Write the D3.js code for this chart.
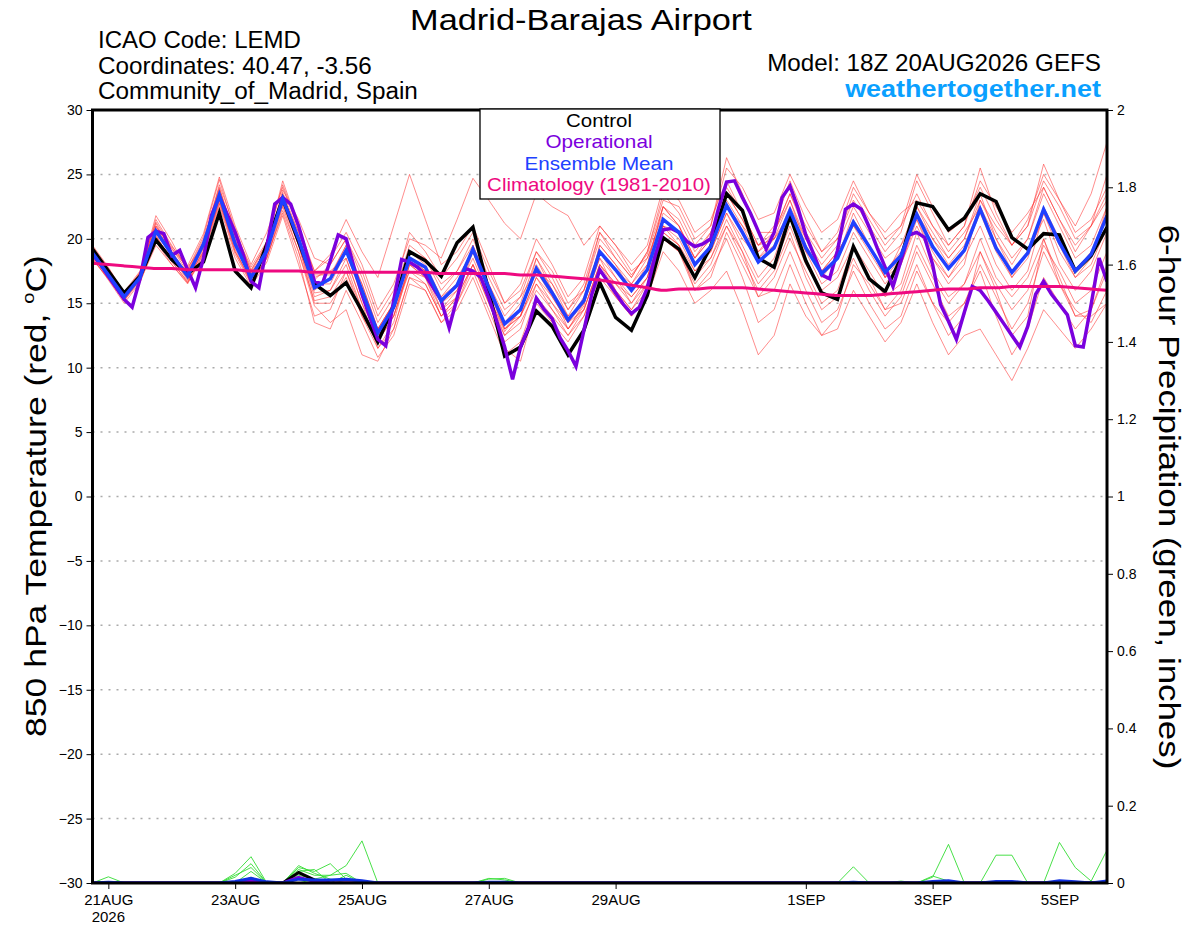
<!DOCTYPE html>
<html><head><meta charset="utf-8">
<script src="https://cdn.jsdelivr.net/npm/d3@7"></script>
<style>body{margin:0;background:#fff} svg{display:block} text{font-family:"Liberation Sans",Arial,Helvetica,sans-serif}</style>
</head><body><svg id="c" width="1200" height="927"></svg>
<script>
const startTime = "2026-08-20T18:00:00Z";
const stepHours = 6;
const opStepHours = 3;
const tempTicks = [30,25,20,15,10,5,0,-5,-10,-15,-20,-25,-30];
const precipTicks = [0,0.2,0.4,0.6,0.8,1,1.2,1.4,1.6,1.8,2];
const dateTicks = ["2026-08-21","2026-08-23","2026-08-25","2026-08-27","2026-08-29","2026-09-01","2026-09-03","2026-09-05"];
const dateLabels = ["21AUG","23AUG","25AUG","27AUG","29AUG","1SEP","3SEP","5SEP"];
const yearLabel = "2026";
const legendLabels = ["Control","Operational","Ensemble Mean","Climatology (1981-2010)"];

const control = [19.2,17.5,15.8,17.1,19.9,18.4,17.3,18.2,22.0,17.5,16.2,19.6,23.1,19.8,16.5,15.6,16.6,14.4,12.0,14.8,19.0,18.3,17.1,19.7,20.9,15.9,10.9,11.6,14.4,13.2,11.0,12.9,16.6,13.9,12.9,15.6,20.1,19.2,17.0,19.4,23.5,22.2,18.5,17.8,21.8,18.3,15.8,15.3,19.4,16.9,15.9,18.5,22.8,22.5,20.7,21.6,23.5,22.9,20.1,19.2,20.4,20.3,17.5,18.7,20.9];
const ensembleMean = [18.9,17.2,15.5,17.0,20.6,18.8,17.1,19.6,23.4,19.6,17.0,19.1,23.1,20.0,16.2,16.9,19.1,16.0,12.7,14.7,18.5,17.8,15.2,16.4,19.2,16.2,13.4,14.5,17.7,15.8,13.7,15.2,19.0,17.6,16.0,17.6,21.5,20.5,18.0,19.4,22.6,20.5,18.2,19.3,22.2,19.3,17.3,18.5,21.3,19.4,17.4,18.7,21.9,19.4,17.7,19.1,22.3,19.3,17.4,18.9,22.3,19.7,17.5,18.8,21.8];
const operational = [18.8,18.0,17.1,16.2,15.3,14.7,16.9,20.1,20.6,20.4,18.7,19.1,17.6,16.2,18.5,21.8,23.3,21.9,20.5,18.8,16.7,16.2,19.4,22.7,23.2,22.7,21.0,18.9,16.7,16.5,18.3,20.3,20.0,
17.8,15.7,13.9,12.2,11.7,15.2,18.4,18.2,17.8,17.2,16.2,15.2,13.1,15.4,17.7,17.5,17.0,15.4,13.6,11.6,9.1,11.6,13.1,15.4,14.5,13.8,12.3,11.3,10.1,12.9,15.7,17.6,
16.7,15.8,14.9,14.2,14.7,16.2,18.7,20.7,20.8,20.5,19.8,19.4,19.6,20.0,22.4,24.4,24.5,23.2,22.0,20.6,19.2,20.5,23.2,24.1,22.4,20.3,18.8,17.2,16.9,19.1,22.3,
22.7,22.3,20.9,19.3,17.8,16.3,18.3,20.3,20.5,20.1,18.0,14.9,13.6,12.2,14.3,16.3,16.0,15.2,14.3,13.4,12.5,11.6,13.2,15.7,16.7,15.7,14.9,14.1,11.7,11.6,14.9,18.5,16.7];
const climatology = [18.1,18.0,17.9,17.8,17.7,17.7,17.6,17.6,17.6,17.6,17.5,17.5,17.5,17.5,17.4,17.4,17.4,17.4,17.4,17.4,17.4,17.4,17.3,17.3,17.3,17.3,17.3,17.2,17.2,17.1,17.0,16.9,16.8,16.6,16.4,16.2,16.0,16.1,16.1,16.2,16.2,16.2,16.1,16.0,15.9,15.8,15.7,15.6,15.6,15.6,15.7,15.8,15.9,16.0,16.1,16.1,16.2,16.2,16.3,16.3,16.3,16.3,16.2,16.1,16.0];

const member01 = [19.5,17.8,15.8,17.3,21.5,19.5,17.6,20.2,24.6,20.5,17.8,19.8,24.2,21.0,17.5,18.8,21.5,19.0,17.0,21.0,25.0,21.5,18.0,19.0,21.0,18.0,15.0,16.0,19.0,17.0,14.5,16.5,20.5,19.0,17.2,18.8,22.5,21.5,19.0,20.5,24.0,22.0,19.5,21.0,24.5,21.5,19.0,20.0,23.0,21.0,19.0,20.5,24.5,22.0,19.5,21.0,25.5,22.0,19.5,21.0,25.8,23.0,20.5,21.5,24.0];
const member02 = [18.5,16.8,15.0,16.6,19.8,18.0,16.5,18.8,22.5,18.8,16.5,18.6,22.0,18.5,13.5,13.0,16.0,13.5,10.8,12.5,16.5,16.0,13.5,15.0,17.5,14.5,11.5,10.5,15.0,13.5,12.0,14.0,17.5,15.5,14.0,15.5,20.0,19.0,16.5,18.0,21.0,18.5,16.0,17.5,20.5,17.0,14.5,15.5,18.5,16.0,14.0,15.5,19.0,16.5,14.0,15.0,17.5,14.0,11.0,13.0,17.0,15.0,13.0,14.5,18.0];
const member03 = [19.2,17.4,15.6,17.4,21.0,19.2,17.8,19.5,23.8,20.2,17.4,19.5,23.6,20.5,17.0,17.5,18.5,15.0,11.5,13.5,18.0,17.5,14.5,16.0,18.5,15.5,12.5,14.0,18.5,16.5,14.0,15.0,19.5,18.0,16.5,18.0,22.5,21.0,18.5,20.0,23.5,21.5,19.0,20.5,23.0,20.0,18.0,19.5,22.5,20.5,18.5,19.5,21.5,18.5,16.5,18.0,23.0,20.5,18.5,20.0,23.5,21.0,18.5,19.5,22.5];
const member04 = [18.7,17.0,15.3,16.8,20.0,18.5,16.8,19.0,23.0,19.2,16.6,18.5,22.5,19.0,14.8,13.5,14.5,11.0,10.5,13.0,17.0,16.5,14.0,15.5,18.0,15.0,12.0,13.0,16.5,14.5,12.5,14.5,18.0,16.0,14.5,16.5,20.5,19.5,17.0,18.5,21.5,19.0,15.5,16.0,19.0,16.0,13.5,14.5,17.5,15.0,13.0,14.0,17.5,15.0,13.5,15.0,18.0,15.5,13.0,15.0,19.0,16.5,14.5,13.5,16.0];
const member05 = [19.0,17.3,15.7,17.2,21.8,19.8,17.5,20.0,24.0,20.0,17.2,19.0,23.8,21.5,18.5,18.0,20.0,17.0,13.5,15.5,19.5,18.5,16.0,17.5,20.0,17.0,14.5,15.5,19.0,17.5,15.0,16.0,20.5,18.5,17.0,19.0,23.0,22.5,20.0,21.0,25.5,24.0,21.5,22.0,25.0,22.5,20.5,21.5,24.5,22.0,20.0,21.0,25.0,22.5,20.5,21.5,24.0,21.5,19.5,21.0,24.5,22.5,20.0,21.0,23.5];
const member06 = [18.6,17.1,15.4,16.9,20.3,18.2,16.7,19.2,22.8,19.4,17.1,18.9,22.8,19.5,15.5,16.0,18.0,14.5,12.0,14.0,18.0,17.0,14.0,15.5,19.0,16.0,13.0,14.0,17.0,15.0,13.0,15.0,18.5,17.0,15.0,17.0,21.0,20.0,17.5,19.0,22.0,19.5,17.0,18.5,22.0,19.0,16.5,17.5,20.5,18.5,16.5,18.0,21.5,19.0,17.0,18.5,21.0,18.0,16.0,17.5,22.0,19.0,17.0,18.0,21.0];
const member07 = [19.3,17.6,15.9,17.5,21.2,19.0,17.3,19.8,23.5,19.8,17.2,19.3,23.3,20.5,17.5,18.5,20.5,18.0,14.5,16.5,20.0,19.5,18.5,21.5,24.7,23.0,21.2,20.0,23.5,22.5,21.8,19.5,21.0,19.5,17.5,18.5,22.0,21.0,18.5,20.0,23.0,21.0,18.5,19.5,22.5,20.0,17.5,18.5,21.5,19.5,17.5,19.0,22.0,20.0,18.0,19.5,22.5,19.5,17.0,19.0,22.5,20.0,17.5,19.0,22.0];
const member08 = [18.8,17.2,15.6,17.1,20.8,19.0,17.2,19.4,23.2,19.5,16.9,19.0,22.9,20.0,16.5,16.5,19.0,15.5,12.5,14.5,18.5,17.5,15.0,16.0,19.5,16.5,13.5,14.0,17.0,15.5,13.5,14.5,18.0,16.5,15.0,16.5,21.0,19.5,16.0,17.5,20.0,17.0,13.5,14.5,18.0,15.0,12.5,13.0,16.0,14.0,12.0,13.5,16.5,13.5,11.0,12.5,13.0,11.0,9.0,11.5,14.5,13.0,11.5,13.0,15.0];
const member09 = [19.1,17.5,15.5,16.8,20.5,18.6,16.9,19.5,23.6,19.9,17.3,19.2,23.0,19.5,15.0,15.0,17.0,14.0,12.0,14.5,17.5,17.0,15.5,17.0,19.0,15.5,12.8,14.5,18.0,16.0,13.0,14.8,19.5,18.0,16.0,18.0,22.5,21.0,18.0,19.0,22.0,20.0,18.5,20.0,23.0,19.5,17.0,18.5,22.0,19.5,17.0,18.5,22.5,20.0,18.5,20.0,23.5,20.0,17.5,19.0,21.5,18.0,16.0,17.5,20.5];
const member10 = [18.9,17.3,15.7,17.2,20.9,19.0,17.0,19.7,24.2,20.8,17.5,19.7,24.5,21.0,17.2,17.2,19.5,16.5,13.0,15.0,19.0,18.0,15.5,16.5,19.0,16.0,13.5,15.0,18.5,16.0,14.0,16.0,20.0,18.5,17.0,19.0,23.5,22.0,19.5,21.0,26.3,23.5,20.5,20.5,23.5,20.5,18.5,20.0,23.5,21.5,19.5,21.0,23.5,21.0,19.0,20.5,22.5,20.0,18.0,20.0,24.0,21.5,19.5,21.0,23.0];
const member11 = [18.4,16.9,15.2,16.7,19.5,18.0,16.6,18.6,22.0,18.5,16.3,18.2,21.8,18.0,14.0,14.5,17.5,14.0,11.5,13.0,17.0,16.0,13.5,14.5,17.0,14.0,11.0,12.0,15.5,14.0,12.5,14.0,17.0,15.5,14.0,15.5,19.0,17.5,15.0,16.0,17.5,14.5,11.0,12.5,16.5,14.0,12.5,14.0,18.0,16.5,14.5,16.0,19.5,17.0,15.0,16.5,19.0,16.5,14.5,16.0,19.5,17.5,15.0,16.0,19.0];
const member12 = [19.0,17.2,15.4,17.0,21.0,19.3,17.4,19.8,23.9,20.3,17.6,19.6,23.4,20.2,16.0,17.0,19.5,16.0,13.0,15.0,19.0,18.5,16.5,17.5,19.5,16.5,14.0,15.5,17.5,16.5,14.5,16.0,19.0,17.0,15.5,17.0,21.0,20.5,18.0,19.5,22.5,21.0,19.5,20.0,21.5,19.0,17.5,19.0,21.0,19.5,17.0,18.0,21.0,18.5,17.0,19.0,22.0,19.0,17.0,18.5,22.0,19.5,17.0,18.5,22.5];
const member13 = [18.7,17.0,15.5,17.0,20.2,18.4,17.0,19.0,23.0,19.0,16.8,18.8,22.6,19.5,15.8,16.0,18.5,15.0,12.5,14.0,18.0,17.0,14.5,15.5,18.0,15.0,12.5,13.5,16.0,14.5,13.0,14.5,18.0,16.5,15.5,17.0,20.5,19.5,17.5,18.5,21.0,19.0,16.5,18.0,21.0,18.0,16.0,17.0,19.5,17.0,14.5,15.0,18.0,15.0,12.5,14.0,19.0,16.0,12.5,14.0,20.0,17.0,14.0,14.5,17.5];
const member14 = [19.4,17.7,15.8,17.4,21.3,19.4,17.9,20.4,24.8,21.0,18.0,20.5,24.0,20.8,16.8,18.0,20.0,17.5,14.0,16.0,20.5,19.0,17.0,18.5,20.5,17.5,15.0,16.5,20.0,18.0,15.5,17.0,21.0,19.5,18.0,19.5,24.0,23.0,20.5,21.5,24.5,22.0,19.5,20.5,23.5,21.0,19.0,20.5,24.0,22.0,20.5,22.0,23.0,21.0,19.5,21.0,24.5,22.5,20.5,22.0,24.0,21.5,19.0,21.0,25.0];
const member15 = [18.8,17.1,15.3,16.9,20.6,18.7,17.0,19.3,23.3,19.6,17.0,19.0,23.0,19.8,16.2,16.8,19.0,16.5,13.0,15.0,18.5,17.5,15.0,16.5,19.0,16.0,13.0,14.5,17.5,15.5,13.5,15.5,19.0,17.5,16.5,18.5,21.5,20.5,18.5,20.5,23.5,21.5,19.0,20.0,22.0,19.5,17.5,19.0,21.0,19.0,17.0,19.5,22.5,20.5,18.5,20.0,23.0,21.0,19.5,21.5,25.0,23.0,21.0,23.5,27.5];
const member16 = [18.5,16.9,15.2,16.9,20.1,18.3,16.6,18.9,22.7,19.0,16.6,18.5,22.2,19.0,15.2,15.5,17.5,14.5,12.0,14.0,17.5,16.5,14.0,15.0,18.0,15.5,13.0,14.0,16.5,15.0,13.5,15.0,18.5,16.0,14.5,16.0,20.0,19.0,16.0,17.0,20.5,18.0,15.5,17.0,20.0,17.5,15.0,16.0,19.5,17.5,15.5,16.5,20.5,17.5,15.5,16.5,20.0,17.0,15.5,17.0,20.0,16.5,14.0,14.0,15.0];

const precipMember01 = [0,0,0,0,0,0,0,0,0,0.025,0.068,0,0,0.045,0.025,0.01,0,0,0,0,0,0,0,0,0,0,0,0,0,0,0,0,0,0,0,0,0,0,0,0,0,0,0,0,0,0,0,0,0,0,0,0,0,0,0,0,0,0,0,0,0,0,0,0,0];
const precipMember02 = [0,0,0,0,0,0,0,0,0,0,0.01,0,0,0,0.01,0.02,0.045,0.109,0,0,0,0,0,0,0,0,0,0,0,0,0,0,0,0,0,0,0,0,0,0,0,0,0,0,0,0,0,0,0,0,0,0,0,0,0,0,0,0,0,0,0,0,0,0,0];
const precipMember03 = [0,0,0,0,0,0,0,0,0,0.015,0.05,0,0,0.04,0.03,0.05,0.01,0,0,0,0,0,0,0,0,0,0,0,0,0,0,0,0,0,0,0,0,0,0,0,0,0,0,0,0,0,0,0,0,0,0,0,0,0,0,0,0,0,0,0,0,0,0,0,0];
const precipMember04 = [0,0,0,0,0,0,0,0,0,0.02,0.04,0,0,0.035,0.02,0.02,0.025,0,0,0,0,0,0,0,0,0,0,0,0,0,0,0,0,0,0,0,0,0,0,0,0,0,0,0,0,0,0,0,0,0,0,0,0,0,0,0,0,0,0,0,0,0,0,0,0];
const precipMember05 = [0,0.016,0,0,0,0,0,0,0,0,0.03,0,0,0.03,0.035,0,0.02,0,0,0,0,0,0,0,0,0.01,0.012,0,0,0,0,0,0,0,0,0,0,0,0,0,0,0,0,0,0,0,0,0,0.042,0,0,0,0,0.015,0.1,0,0,0.072,0.072,0,0,0.105,0.04,0.005,0.085];
const precipMember06 = [0,0,0,0,0,0,0,0,0,0,0.015,0,0,0.02,0.01,0,0,0,0,0,0,0,0,0,0,0.012,0.008,0,0,0,0,0,0,0,0,0,0,0,0,0,0,0,0,0,0,0,0,0,0,0,0,0.005,0,0.018,0.005,0,0,0,0,0,0,0,0,0,0];
const precipControl = [0,0,0,0,0,0,0,0,0,0,0.008,0,0,0.027,0.008,0,0,0,0,0,0,0,0,0,0,0,0,0,0,0,0,0,0,0,0,0,0,0,0,0,0,0,0,0,0,0,0,0,0,0,0,0,0,0,0,0,0,0,0,0,0,0,0,0,0];
const precipMean = [0,0.002,0,0,0,0,0,0,0,0.004,0.012,0.003,0,0.01,0.008,0.008,0.01,0.006,0,0,0,0,0,0,0,0.002,0.002,0,0,0,0,0,0,0,0,0,0,0,0,0,0,0,0,0,0,0,0,0,0.002,0,0,0,0,0.004,0.006,0,0,0.004,0.004,0,0,0.006,0.003,0,0.005];
const precipOp = [0,0,0,0,0,0,0,0,0,0,0.006,0,0,0.015,0.004,0,0,0,0,0,0,0,0,0,0,0,0,0,0,0,0,0,0,0,0,0,0,0,0,0,0,0,0,0,0,0,0,0,0,0,0,0,0,0,0,0,0,0,0,0,0,0,0,0,0];

const members = [member01,member02,member03,member04,member05,member06,member07,member08,member09,member10,member11,member12,member13,member14,member15,member16];
const precipMembers = [precipMember01,precipMember02,precipMember03,precipMember04,precipMember05,precipMember06];

const svg = d3.select("#c");
const m = {l: 92.5, r: 1107, t: 110, b: 883};
const t0 = new Date(startTime);
const tAt = (i, step) => new Date(t0.getTime() + i * step * 3600e3);
const x = d3.scaleUtc().domain([t0, tAt(64, stepHours)]).range([m.l, m.r]);
const y = d3.scaleLinear().domain([-30, 30]).range([m.b, m.t]);
const yp = d3.scaleLinear().domain([0, 2]).range([m.b, m.t]);

const font = '"Liberation Sans",Arial,Helvetica,sans-serif';

// text helper: stretches a label horizontally to the reference width
function fitText(parent, o) {
  const g = parent.append("g");
  const t = g.append("text").attr("font-size", o.size).attr("text-anchor", o.anchor || "start")
    .attr("fill", o.fill || "#000").attr("font-weight", o.weight || "normal");
  if (o.build) o.build(t); else t.text(o.text);
  const w = t.node().getComputedTextLength();
  const s = o.width ? o.width / w : 1;
  g.attr("transform", `translate(${o.x},${o.y}) rotate(${o.rotate || 0}) scale(${s},1)`);
  return g;
}

// grid
svg.append("g").selectAll("line").data(tempTicks.filter(d => d > -30 && d < 30)).join("line")
  .attr("x1", m.l).attr("x2", m.r).attr("y1", d => y(d)).attr("y2", d => y(d))
  .attr("stroke", "#aaaaaa").attr("stroke-width", 1.5).attr("stroke-dasharray", "2,6");

svg.append("clipPath").attr("id", "pc").append("rect")
  .attr("x", m.l).attr("y", m.t).attr("width", m.r - m.l).attr("height", m.b - m.t);
const plot = svg.append("g").attr("clip-path", "url(#pc)");

const line6 = d3.line().x((d, i) => x(tAt(i, stepHours))).y(d => y(d));
const line3 = d3.line().x((d, i) => x(tAt(i, opStepHours))).y(d => y(d));
const lineP = d3.line().x((d, i) => x(tAt(i, stepHours))).y(d => yp(d));
const lineC = d3.line().x((d, i) => x(tAt(i, stepHours))).y(d => y(d)).curve(d3.curveMonotoneX);

plot.append("g").selectAll("path").data(members).join("path")
  .attr("d", line6).attr("fill", "none").attr("stroke", "#ff2a2a").attr("stroke-opacity", 0.6).attr("stroke-width", 0.9);
plot.append("g").selectAll("path").data(precipMembers).join("path")
  .attr("d", lineP).attr("fill", "none").attr("stroke", "#33dd33").attr("stroke-width", 0.9);
plot.append("path").datum(precipControl).attr("d", lineP).attr("fill", "none").attr("stroke", "#000").attr("stroke-width", 3);
plot.append("path").datum(precipOp).attr("d", lineP).attr("fill", "none").attr("stroke", "#7b00dd").attr("stroke-width", 3);
plot.append("path").datum(precipMean).attr("d", lineP).attr("fill", "none").attr("stroke", "#1030e0").attr("stroke-width", 3);

plot.append("path").datum(control).attr("d", line6).attr("fill", "none").attr("stroke", "#000").attr("stroke-width", 3.5);
plot.append("path").datum(operational).attr("d", line3).attr("fill", "none").attr("stroke", "#7b00dd").attr("stroke-width", 3.5);
plot.append("path").datum(ensembleMean).attr("d", line6).attr("fill", "none").attr("stroke", "#2040ff").attr("stroke-width", 3.5);
plot.append("path").datum(climatology).attr("d", lineC).attr("fill", "none").attr("stroke", "#ee0a80").attr("stroke-width", 3);

// frame
svg.append("rect").attr("x", m.l).attr("y", m.t).attr("width", m.r - m.l).attr("height", m.b - m.t)
  .attr("fill", "none").attr("stroke", "#000").attr("stroke-width", 3);

// axes
const yAxis = d3.axisLeft(y).tickValues(tempTicks).tickSize(6).tickPadding(4).tickFormat(d3.format("d"));
const ga = svg.append("g").attr("transform", `translate(${m.l},0)`).call(yAxis);
ga.select(".domain").remove();
ga.selectAll("text").attr("font-size", 14).attr("font-family", font).attr("fill", "#000");
ga.selectAll("line").attr("stroke", "#000");

const ypAxis = d3.axisRight(yp).tickValues(precipTicks).tickSize(6).tickPadding(4).tickFormat(d => d3.format("~g")(d));
const gb = svg.append("g").attr("transform", `translate(${m.r},0)`).call(ypAxis);
gb.select(".domain").remove();
gb.selectAll("text").attr("font-size", 14).attr("font-family", font).attr("fill", "#000");
gb.selectAll("line").attr("stroke", "#000");

const xDates = dateTicks.map(d => new Date(d + "T00:00:00Z"));
const xAxis = d3.axisBottom(x).tickValues(xDates).tickSize(6).tickPadding(5).tickFormat((d, i) => dateLabels[i]);
const gx = svg.append("g").attr("transform", `translate(0,${m.b})`).call(xAxis);
gx.select(".domain").remove();
gx.selectAll("text").attr("font-size", 15).attr("font-family", font).attr("fill", "#000").attr("dy", "0.71em");
gx.selectAll("line").attr("stroke", "#000");
svg.append("text").attr("x", x(xDates[0])).attr("y", 922).attr("text-anchor", "middle")
  .attr("font-size", 15).attr("font-family", font).text(yearLabel);

// titles
fitText(svg, {x: 410, y: 30, size: 30, text: "Madrid-Barajas Airport", width: 342});
const info = ["ICAO Code: LEMD", "Coordinates: 40.47, -3.56", "Community_of_Madrid, Spain"];
const infoW = [203, 274, 320];
info.forEach((d, i) => fitText(svg, {x: 98, y: 48 + i * 25.6, size: 23, text: d, width: infoW[i]}));
fitText(svg, {x: 1101, y: 71, size: 23, anchor: "end", text: "Model: 18Z 20AUG2026 GEFS", width: 334});
fitText(svg, {x: 1101, y: 97, size: 23, anchor: "end", weight: "bold", fill: "#0aa0ff", text: "weathertogether.net", width: 256});

// axis titles
fitText(svg, {x: 46, y: 496, size: 30, anchor: "middle", rotate: -90, width: 482, build: t => {
  t.append("tspan").text("850 hPa Temperature (red, ");
  t.append("tspan").attr("font-size", 17).attr("dy", -12).text("o");
  t.append("tspan").attr("dy", 12).text("C)");
}});
fitText(svg, {x: 1159, y: 497, size: 30, anchor: "middle", rotate: 90, text: "6-hour Precipitation (green, inches)", width: 545});

// legend
const lg = svg.append("g");
lg.append("rect").attr("x", 480).attr("y", m.t - 1).attr("width", 240).attr("height", 90)
  .attr("fill", "#fff").attr("stroke", "#000").attr("stroke-width", 1.3);
const legendColors = ["#000000", "#7b00dd", "#2040ff", "#ee0a80"];
const legendW = [66, 107, 149, 224];
const legendY = [126.7, 148.3, 169.5, 190.7];
legendLabels.forEach((d, i) => fitText(lg, {x: 599, y: legendY[i], size: 17.5, anchor: "middle", fill: legendColors[i], text: d, width: legendW[i]}));
</script></body></html>
